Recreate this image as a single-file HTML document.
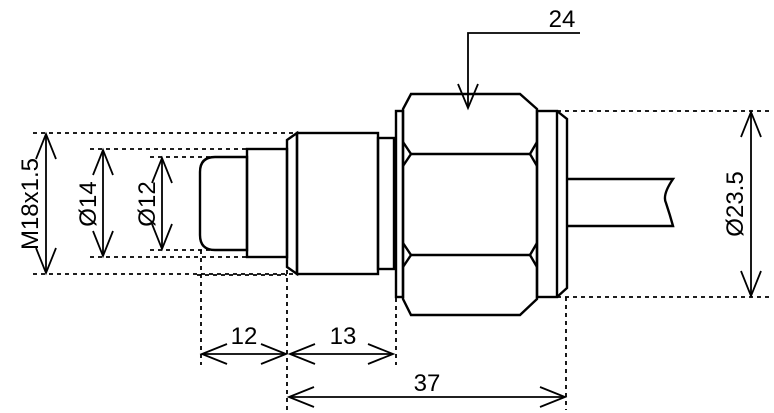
<!DOCTYPE html>
<html><head><style>html,body{margin:0;padding:0;background:#fff;}svg{display:block;}</style></head>
<body>
<svg width="774" height="413" viewBox="0 0 774 413" xmlns="http://www.w3.org/2000/svg" font-family="Liberation Sans, sans-serif" font-size="24">
<g fill="none" stroke="#000" stroke-width="1.8" stroke-dasharray="4,4">
<line x1="33" y1="133" x2="297" y2="133"/>
<line x1="33" y1="274" x2="297" y2="274"/>
<line x1="90" y1="149" x2="247" y2="149"/>
<line x1="90" y1="257" x2="247" y2="257"/>
<line x1="150" y1="157" x2="215" y2="157"/>
<line x1="150" y1="250" x2="215" y2="250"/>
<line x1="197" y1="275" x2="287" y2="275"/>
<line x1="557" y1="111" x2="772" y2="111"/>
<line x1="557" y1="297" x2="772" y2="297"/>
<line x1="201" y1="250" x2="201" y2="365"/>
<line x1="287" y1="270" x2="287" y2="410"/>
<line x1="396" y1="298" x2="396" y2="365"/>
<line x1="566" y1="297" x2="566" y2="410"/>
</g>
<g fill="none" stroke="#000" stroke-width="2.4" stroke-linejoin="miter">
<path d="M247 157 H215 Q200 157 200 172 V235 Q200 250 215 250 H247 Z"/>
<rect x="247" y="149" width="40" height="108"/>
<path d="M297 133 L287 140 V267 L297 274 Z"/>
<rect x="297" y="133" width="81" height="141"/>
<rect x="378" y="138" width="16" height="131"/>
<rect x="396" y="111" width="7" height="186"/>
<path d="M411 94 H520 L537 109 V299 L520 315 H411 L403 299 V109 Z"/>
<line x1="411" y1="154" x2="530" y2="154"/>
<line x1="411" y1="255" x2="530" y2="255"/>
<path d="M403 142 L411 154 L403 166 M537 142 L530 154 L537 166"/>
<path d="M403 243 L411 255 L403 267 M537 243 L530 255 L537 267"/>
<rect x="537" y="111" width="20" height="186"/>
<path d="M557 111 L567 119 V288 L557 297"/>
<path d="M567 179 H673 Q662 195 666 203 Q670 215 673 226 H567"/>
</g>
<g fill="none" stroke="#000" stroke-width="1.8">
<path d="M580 33 H468 V108"/>
<path d="M458 84 L468 108 L478 84"/>
<line x1="46" y1="134" x2="46" y2="273"/>
<path d="M36 159 L46 134 L56 159 M36 248 L46 273 L56 248"/>
<line x1="103" y1="150" x2="103" y2="256"/>
<path d="M93 175 L103 150 L113 175 M93 231 L103 256 L113 231"/>
<line x1="162" y1="158" x2="162" y2="249"/>
<path d="M152 183 L162 158 L172 183 M152 224 L162 249 L172 224"/>
<line x1="751" y1="112" x2="751" y2="296"/>
<path d="M741 137 L751 112 L761 137 M741 271 L751 296 L761 271"/>
<line x1="202" y1="354" x2="286" y2="354"/>
<path d="M227 344 L202 354 L227 364 M261 344 L286 354 L261 364"/>
<line x1="290" y1="354" x2="393" y2="354"/>
<path d="M315 344 L290 354 L315 364 M368 344 L393 354 L368 364"/>
<line x1="289" y1="397" x2="565" y2="397"/>
<path d="M314 387 L289 397 L314 407 M540 387 L565 397 L540 407"/>
</g>
<g fill="#000">
<text x="562" y="27" text-anchor="middle">24</text>
<text x="244" y="344" text-anchor="middle">12</text>
<text x="343" y="344" text-anchor="middle">13</text>
<text x="427" y="391" text-anchor="middle">37</text>
<text transform="translate(38,204) rotate(-90)" text-anchor="middle">M18x1.5</text>
<text transform="translate(96,204) rotate(-90)" text-anchor="middle">Ø14</text>
<text transform="translate(155,204) rotate(-90)" text-anchor="middle">Ø12</text>
<text transform="translate(743,204) rotate(-90)" text-anchor="middle">Ø23.5</text>
</g>
</svg>
</body></html>
